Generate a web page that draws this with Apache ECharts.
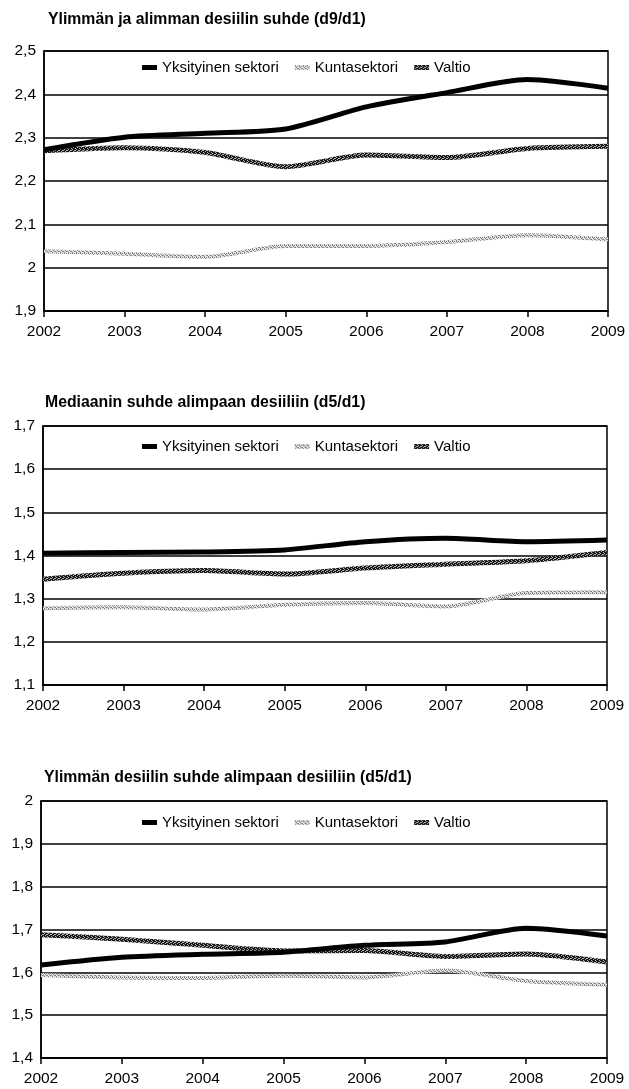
<!DOCTYPE html>
<html>
<head>
<meta charset="utf-8">
<script src="https://cdn.jsdelivr.net/npm/echarts@6/dist/echarts.min.js"></script>
<style>
html,body{margin:0;padding:0;background:#fff;}
#chart{width:629px;height:1089px;}
</style>
</head>
<body>
<div id="chart"></div>
<script>
// ---- data ----
const years = ['2002','2003','2004','2005','2006','2007','2008','2009'];
const seriesNames = ['Yksityinen sektori','Kuntasektori','Valtio'];
const titles = [
  'Ylimmän ja alimman desiilin suhde (d9/d1)',
  'Mediaanin suhde alimpaan desiiliin (d5/d1)',
  'Ylimmän desiilin suhde alimpaan desiiliin (d5/d1)'
];
// chart 1: d9/d1
const c1Yksityinen = [2.272, 2.301, 2.310, 2.320, 2.371, 2.404, 2.434, 2.414];
const c1Kunta      = [2.038, 2.032, 2.025, 2.050, 2.050, 2.059, 2.075, 2.065];
const c1Valtio     = [2.270, 2.277, 2.266, 2.233, 2.260, 2.254, 2.275, 2.280];
const c1Axis = {min: 1.9, max: 2.5};
// chart 2: d5/d1
const c2Yksityinen = [1.405, 1.407, 1.408, 1.413, 1.432, 1.440, 1.432, 1.436];
const c2Kunta      = [1.278, 1.280, 1.275, 1.286, 1.290, 1.282, 1.313, 1.315];
const c2Valtio     = [1.345, 1.359, 1.365, 1.357, 1.371, 1.380, 1.388, 1.407];
const c2Axis = {min: 1.1, max: 1.7};
// chart 3
const c3Yksityinen = [1.617, 1.635, 1.642, 1.647, 1.663, 1.671, 1.703, 1.685];
const c3Kunta      = [1.594, 1.588, 1.587, 1.592, 1.588, 1.604, 1.580, 1.571];
const c3Valtio     = [1.688, 1.677, 1.663, 1.650, 1.651, 1.637, 1.643, 1.624];
const c3Axis = {min: 1.4, max: 2.0};
const yInterval = 0.1;

// ---- styling ----
const bodyFont = "'Liberation Sans', Arial, sans-serif";
const boldFont = "'Liberation Sans', Arial, sans-serif";

function makePattern(dark, light, cells) {
  const c = document.createElement('canvas');
  c.width = 4; c.height = 4;
  const ctx = c.getContext('2d');
  ctx.fillStyle = light; ctx.fillRect(0,0,4,4);
  ctx.fillStyle = dark;
  cells.forEach(([x,y]) => ctx.fillRect(x,y,1,1));
  return {image: c, repeat: 'repeat'};
}
const valtioPattern = makePattern('#1a1a1a', '#b0b0b0', [[0,0],[1,0],[2,1],[3,1],[0,2],[1,2],[2,3],[3,3],[1,1],[0,3],[2,0]]);
const kuntaPattern = makePattern('#808080', '#e2e2e2', [[0,0],[2,1],[1,2],[3,3],[2,3],[0,1]]);

const grids = [
  {left: 44, right: 21, top: 51, height: 260},
  {left: 43, right: 22, top: 426, height: 259},
  {left: 41, right: 22, top: 801, height: 257}
];
const titleTops = [12, 395, 770];
const titleLefts = [48, 45, 44];
const legendTops = [60, 439, 815];
const axes = [c1Axis, c2Axis, c3Axis];
const dataSets = [
  [c1Yksityinen, c1Kunta, c1Valtio],
  [c2Yksityinen, c2Kunta, c2Valtio],
  [c3Yksityinen, c3Kunta, c3Valtio]
];

const styles = {
  'Yksityinen sektori': {line: {color: '#000', width: 5}, item: '#000', z: 4},
  'Kuntasektori': {line: {color: kuntaPattern, width: 4}, item: '#bdbdbd', z: 2},
  'Valtio': {line: {color: valtioPattern, width: 5}, item: '#555', z: 3}
};

const option = {
  backgroundColor: '#fff',
  animation: false,
  title: titles.map((t, i) => ({
    text: t, left: titleLefts[i], top: titleTops[i], padding: 0,
    textStyle: {fontFamily: boldFont, fontWeight: 'bold', fontSize: 15.8, color: '#000'}
  })),
  legend: grids.map((g, i) => ({
    left: 142, top: legendTops[i], padding: 0,
    itemWidth: 15, itemHeight: 5, itemGap: 16,
    icon: 'rect',
    data: seriesNames.map(n => ({name: n, itemStyle: {color: styles[n].line.color}})),
    textStyle: {fontFamily: bodyFont, fontSize: 15, color: '#000'}
  })),
  grid: grids.map(g => Object.assign({show: true, borderColor: '#000', borderWidth: 1.5, backgroundColor: 'transparent'}, g)),
  xAxis: grids.map((g, i) => ({
    type: 'category', gridIndex: i, data: years, boundaryGap: false,
    axisLine: {lineStyle: {color: '#000', width: 1.5}},
    axisTick: {show: true, inside: false, length: 6, lineStyle: {color: '#000', width: 1.5}},
    axisLabel: {fontFamily: bodyFont, fontSize: 15.5, color: '#000', margin: 13},
    splitLine: {show: false}
  })),
  yAxis: grids.map((g, i) => ({
    type: 'value', gridIndex: i, min: axes[i].min, max: axes[i].max, interval: yInterval,
    axisLine: {show: true, lineStyle: {color: '#000', width: 1.5}},
    axisTick: {show: false},
    axisLabel: {fontFamily: bodyFont, fontSize: 15.5, color: '#000', margin: 8,
      formatter: v => String(Math.round(v * 10) / 10).replace('.', ',')},
    splitLine: {show: true, lineStyle: {color: '#000', width: 1.5}}
  })),
  series: []
};

dataSets.forEach((set, gi) => {
  [1, 2, 0].forEach(si => {
    const name = seriesNames[si];
    const st = styles[name];
    option.series.push({
      type: 'line', name: name, xAxisIndex: gi, yAxisIndex: gi,
      data: set[si], smooth: 0.25, showSymbol: false, symbol: 'none',
      z: st.z,
      itemStyle: {color: st.item},
      lineStyle: Object.assign({cap: 'butt', join: 'round'}, st.line)
    });
  });
});

const chart = echarts.init(document.getElementById('chart'), null, {renderer: 'canvas'});
chart.setOption(option);
</script>
</body>
</html>
